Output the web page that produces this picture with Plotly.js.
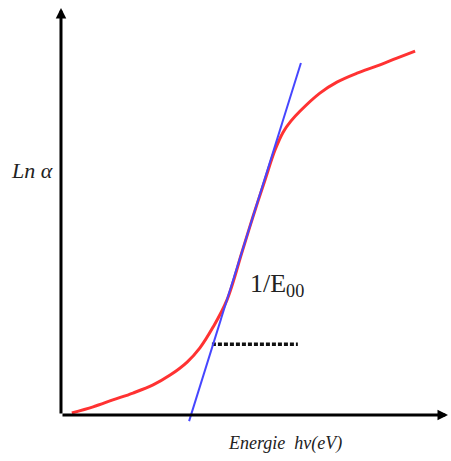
<!DOCTYPE html>
<html>
<head>
<meta charset="utf-8">
<script src="https://cdn.plot.ly/plotly-3.0.1.min.js"></script>
<style>html,body{margin:0;padding:0;background:#fff;}#chart{width:451px;height:461px;}</style>
</head>
<body>
<div id="chart"></div>
<script>
// Measured curve: ln(alpha) vs photon energy (arbitrary units)
const energy = [0.28, 0.83, 1.34, 1.86, 2.38, 2.82, 3.26, 3.59, 3.93, 4.29, 4.68, 4.96, 5.27, 5.53, 5.74, 5.94, 6.18, 6.69, 7.13, 7.65, 8.17, 8.68, 9.15];
const lnAlpha = [0.05, 0.20, 0.37, 0.54, 0.74, 0.98, 1.30, 1.65, 2.16, 2.83, 4.01, 4.87, 5.77, 6.51, 6.95, 7.22, 7.47, 7.91, 8.18, 8.40, 8.58, 8.77, 8.94];
// Tangent (slope 1/E00)
const tangentX = [3.31, 6.20];
const tangentY = [-0.15, 8.65];
// Horizontal dashed guide
const guideX = [3.90, 6.12];
const guideY = [1.74, 1.74];
// Axis extents
const axisMaxX = 10.0;
const axisMaxY = 10.0;
// Labels
const yLabel = "<i>Ln α</i>";
const xLabel = "<i>Energie  hν(eV)</i>";
const slopeLabel = "1/E<sub>00</sub>";

const traces = [
  {x: guideX, y: guideY, mode: 'lines', line: {color: '#111', width: 3.5, dash: '4px,2px'}, hoverinfo: 'skip'},
  {x: energy, y: lnAlpha, mode: 'lines', line: {color: 'rgb(255,50,50)', width: 3, shape: 'spline'}, hoverinfo: 'skip'},
  {x: tangentX, y: tangentY, mode: 'lines', line: {color: 'rgb(70,70,255)', width: 2}, hoverinfo: 'skip'}
];

const layout = {
  width: 451, height: 461,
  margin: {l: 0, r: 0, t: 0, b: 0},
  paper_bgcolor: '#fff', plot_bgcolor: '#fff',
  showlegend: false,
  xaxis: {range: [-1.576, 10.078], visible: false, fixedrange: true},
  yaxis: {range: [-1.130, 10.197], visible: false, fixedrange: true},
  font: {family: '"Liberation Serif", "DejaVu Serif", serif', color: '#222'},
  annotations: [
    {x: axisMaxX, y: 0, ax: 0, ay: 0, xref: 'x', yref: 'y', axref: 'x', ayref: 'y', text: '', showarrow: true, arrowhead: 2, arrowsize: 0.7, arrowwidth: 3, arrowcolor: '#000', standoff: 0},
    {x: 0, y: axisMaxY, ax: 0, ay: 0, xref: 'x', yref: 'y', axref: 'x', ayref: 'y', text: '', showarrow: true, arrowhead: 2, arrowsize: 0.7, arrowwidth: 3, arrowcolor: '#000', standoff: 0},
    {x: -0.75, y: 6.02, xref: 'x', yref: 'y', text: yLabel, showarrow: false, font: {size: 22, color: '#222'}, xanchor: 'center', yanchor: 'middle'},
    {x: 5.79, y: -0.69, xref: 'x', yref: 'y', text: xLabel, showarrow: false, font: {size: 18, color: '#222'}, xanchor: 'center', yanchor: 'middle'},
    {x: 4.83, y: 3.19, xref: 'x', yref: 'y', text: slopeLabel, showarrow: false, font: {size: 26, color: '#222'}, xanchor: 'left', yanchor: 'middle'}
  ]
};

Plotly.newPlot('chart', traces, layout, {staticPlot: true, displayModeBar: false});
</script>
</body>
</html>
